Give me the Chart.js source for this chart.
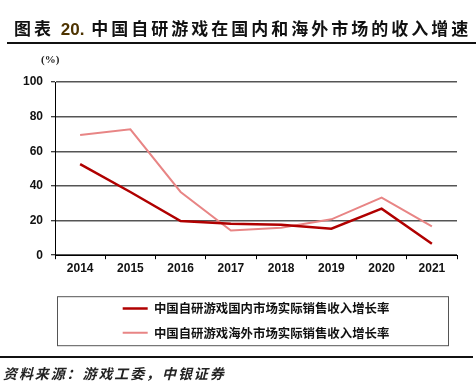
<!DOCTYPE html>
<html>
<head>
<meta charset="utf-8">
<script src="https://cdn.jsdelivr.net/npm/chart.js@4.4.0/dist/chart.umd.min.js"></script>
<style>
  html, body { margin: 0; padding: 0; background: #fff; }
  body { width: 476px; height: 387px; position: relative; overflow: hidden; }
  #title {
    position: absolute; left: 14px; top: 17px; white-space: nowrap;
    font: bold 17px "Noto Sans CJK SC", sans-serif; letter-spacing: 3px; color: #111; line-height: 22px;
  }
  #title .num { font-family: "Liberation Sans", Arial, sans-serif; color: #4d3300; letter-spacing: 0; }
  #topLine { position: absolute; left: 7px; right: 0; top: 42px; height: 2px; background: #111; }
  #bottomLine { position: absolute; left: 0; width: 473px; top: 356px; height: 2px; background: #111; }
  #source {
    position: absolute; left: 3px; top: 363px; white-space: nowrap;
    font: italic bold 14px "Noto Sans CJK SC", sans-serif; letter-spacing: 1.9px; color: #222; line-height: 20px;
  }
  #unit {
    position: absolute; left: 41px; top: 53px;
    font: bold 11px "Liberation Serif", "Times New Roman", serif; color: #222;
  }
  #wrap { position: absolute; left: 0; top: 0; width: 476px; height: 387px; }
</style>
</head>
<body>
<div id="wrap"><canvas id="chart" width="476" height="387"></canvas></div>
<div id="title">图表 <span class="num">20.</span> 中国自研游戏在国内和海外市场的收入增速</div>
<div id="topLine"></div>
<div id="unit">(%)</div>
<div id="bottomLine"></div>
<div id="source">资料来源：游戏工委，中银证券</div>
<script>
// 数据
const years = ['2014', '2015', '2016', '2017', '2018', '2019', '2020', '2021'];
const domesticGrowth = [52.6, 36.5, 19.7, 18.2, 17.6, 15.3, 26.9, 6.6];
const overseasGrowth = [69.4, 72.7, 36.5, 14.3, 15.9, 20.7, 33.3, 16.6];
const seriesNames = ['中国自研游戏国内市场实际销售收入增长率', '中国自研游戏海外市场实际销售收入增长率'];
const yMin = 0, yMax = 100, yStep = 20;

// 图例外框
const legendBox = {
    id: 'legendBox',
    afterDraw(chart) {
        const lg = chart.legend;
        const ctx = chart.ctx;
        ctx.save();
        ctx.strokeStyle = '#555';
        ctx.lineWidth = 1;
        ctx.strokeRect(57.5, lg.top + 6.5, 391, 49);
        ctx.restore();
    }
};

const tickFont = { family: '"Liberation Sans Narrow", "Liberation Sans", Arial, sans-serif', size: 12, weight: 'bold' };

new Chart(document.getElementById('chart').getContext('2d'), {
    type: 'line',
    data: {
        labels: years,
        datasets: [{
            label: seriesNames[0],
            data: domesticGrowth,
            borderColor: '#b00000',
            backgroundColor: '#b00000',
            borderWidth: 2.5,
            pointRadius: 0,
            tension: 0
        }, {
            label: seriesNames[1],
            data: overseasGrowth,
            borderColor: '#e88585',
            backgroundColor: '#e88585',
            borderWidth: 2,
            pointRadius: 0,
            tension: 0
        }]
    },
    options: {
        responsive: false,
        animation: false,
        devicePixelRatio: 1,
        layout: { padding: { top: 82, right: 19, bottom: 38, left: 0 } },
        scales: {
            x: {
                offset: true,
                afterFit(scale) { scale.height = 35; },
                grid: { display: true, drawOnChartArea: false, offset: true, tickLength: 4, tickColor: '#000', tickWidth: 1 },
                border: { color: '#000', width: 1 },
                ticks: { color: '#111', font: tickFont, padding: 2, maxRotation: 0, autoSkip: false }
            },
            y: {
                min: yMin,
                max: yMax,
                afterFit(scale) { scale.width = 55; },
                ticks: { stepSize: yStep, color: '#111', font: tickFont, padding: 8 },
                grid: {
                    color: '#555', lineWidth: 1.5, borderDash: [1, 1],
                    tickLength: 4, tickColor: '#000', tickWidth: 1, tickBorderDash: []
                },
                border: { color: '#000', width: 1 }
            }
        },
        plugins: {
            legend: {
                position: 'bottom',
                fullSize: false,
                labels: {
                    usePointStyle: true,
                    pointStyle: 'line',
                    pointStyleWidth: 25,
                    padding: 12,
                    color: '#111',
                    font: { family: '"Noto Sans CJK SC", sans-serif', size: 12.4, weight: 'bold' }
                }
            },
            tooltip: { enabled: false }
        }
    },
    plugins: [legendBox]
});
</script>
</body>
</html>
